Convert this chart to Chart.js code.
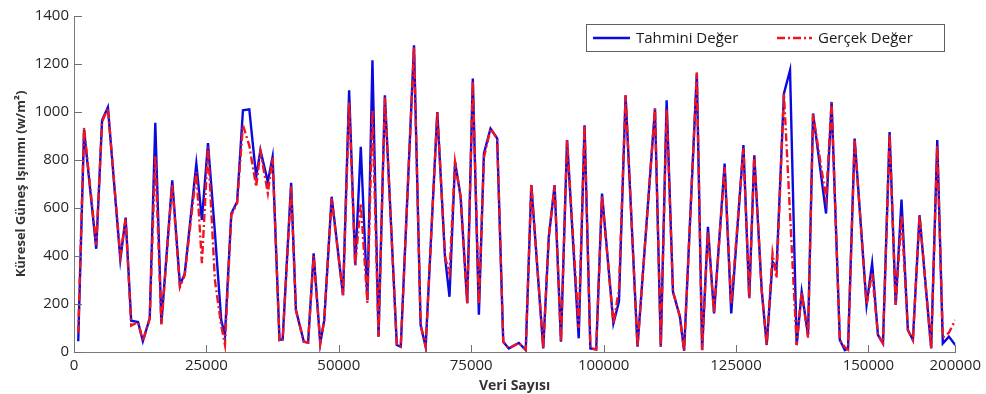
<!DOCTYPE html>
<html><head><meta charset="utf-8">
<script src="https://cdn.jsdelivr.net/npm/chart.js@4.4.0/dist/chart.umd.min.js"></script>
<style>html,body{margin:0;padding:0;background:#fff;}</style>
</head><body>
<canvas id="c" width="986" height="394"></canvas>
<script>
const veriSayisi = [800,1900,4200,5300,6400,8750,9750,10800,12100,13000,
 14300,15350,16500,18550,20000,20900,23100,24150,25300,26600,
 27800,28500,29700,30800,31900,33100,34400,35200,36600,37500,
 38800,39400,41000,41900,43400,44200,45250,46500,47250,48650,
 50800,51950,53100,54150,55400,56350,57500,58700,60950,61700,
 64200,65450,66400,68600,70050,70900,71950,73000,74250,75300,
 76450,77400,78650,79900,81050,82100,84000,85300,86350,88600,
 89650,90750,91950,93100,95300,96400,97500,98600,99700,101850,
 102900,104150,106400,109700,110800,111900,113100,114400,115200,117600,
 118600,119700,120850,122850,124100,126400,127500,128450,129850,130800,
 131900,132650,134050,135200,136450,137400,138600,139550,142000,143050,
 144600,145550,146150,147400,149650,150700,151800,152750,154000,155150,
 156250,157450,158400,159650,161850,163000,164050,165200,166400];
const tahmini = [45,925,430,965,1020,385,560,130,125,45,
 140,955,120,715,280,325,785,550,870,500,
 133,70,577,626,1007,1011,730,841,709,813,
 50,53,705,175,43,39,411,36,133,647,
 237,1090,362,855,216,1216,64,1070,29,22,
 1278,112,22,1000,397,230,792,647,203,1139,
 155,827,931,890,43,15,38,8,695,15,
 480,695,43,883,57,945,15,11,660,119,
 210,1070,22,1014,22,1049,251,148,5,1160,
 8,522,161,785,161,862,224,820,258,29,
 376,349,1077,1174,29,251,71,994,577,1042,
 50,8,15,889,196,369,71,36,917,196,
 635,92,50,570,15,883,36,64,29];
const gercek = [80,935,445,960,1015,400,555,110,125,45,
 140,820,115,700,270,320,750,370,855,300,
 110,30,570,620,945,860,688,835,662,810,
 45,50,690,175,43,39,400,36,133,640,
 237,1040,362,620,205,1010,64,1060,29,22,
 1270,112,22,1000,397,326,792,647,203,1130,
 200,810,931,890,43,15,38,10,700,15,
 480,695,43,883,100,945,15,11,650,119,
 260,1070,22,1014,22,1010,251,148,5,1165,
 8,500,161,770,200,850,224,820,258,29,
 411,308,1077,575,29,251,60,990,640,1040,
 50,20,10,885,196,330,71,36,910,196,
 570,92,50,570,15,860,60,80,133];
const xTickValues = [0,25000,50000,75000,100000,125000,150000,166400];
const xTickLabels = ['0','25000','50000','75000','100000','125000','150000','200000'];
const yMin = 0, yMax = 1400, yStep = 200;

const FONT = "'Open Sans', 'DejaVu Sans', sans-serif";

const innerTicks = {
  id: 'innerTicks',
  afterDatasetsDraw(chart) {
    const {ctx, chartArea: a, scales: {x, y}} = chart;
    ctx.save();
    ctx.strokeStyle = '#707070';
    ctx.lineWidth = 1;
    ctx.beginPath();
    x.ticks.forEach(t => {
      const px = Math.round(x.getPixelForValue(t.value)) + 0.5;
      ctx.moveTo(px, a.bottom); ctx.lineTo(px, a.bottom - 7);
    });
    y.ticks.forEach(t => {
      const py = Math.round(y.getPixelForValue(t.value)) + 0.5;
      ctx.moveTo(a.left, py); ctx.lineTo(a.left + 8, py);
    });
    ctx.stroke();
    ctx.restore();
  }
};

const boxLegend = {
  id: 'boxLegend',
  afterDraw(chart) {
    const ctx = chart.ctx;
    const ds = chart.data.datasets;
    const bx = 586.5, by = 24.5, bw = 358, bh = 27;
    ctx.save();
    ctx.fillStyle = '#fff';
    ctx.fillRect(bx, by, bw, bh);
    ctx.strokeStyle = '#606060';
    ctx.lineWidth = 1;
    ctx.strokeRect(bx, by, bw, bh);
    const cy = by + bh / 2;
    const entries = [{x0: 593, x1: 630, tx: 636}, {x0: 777, x1: 812, tx: 818}];
    ds.forEach((d, i) => {
      const e = entries[i];
      ctx.beginPath();
      ctx.strokeStyle = d.borderColor;
      ctx.lineWidth = d.borderWidth;
      ctx.setLineDash(d.borderDash || []);
      ctx.moveTo(e.x0, cy); ctx.lineTo(e.x1, cy);
      ctx.stroke();
      ctx.setLineDash([]);
      ctx.fillStyle = '#1a1a1a';
      ctx.font = "15px " + FONT;
      ctx.textBaseline = 'middle';
      ctx.textAlign = 'left';
      ctx.fillText(d.label, e.tx, cy + 1);
    });
    ctx.restore();
  }
};

new Chart(document.getElementById('c'), {
  type: 'line',
  data: {
    datasets: [
      {
        label: 'Tahmini Değer',
        data: veriSayisi.map((v, i) => ({x: v, y: tahmini[i]})),
        borderColor: '#0a0ae0',
        borderWidth: 2.4,
        pointRadius: 0,
        tension: 0,
        fill: false,
        order: 1
      },
      {
        label: 'Gerçek Değer',
        data: veriSayisi.map((v, i) => ({x: v, y: gercek[i]})),
        borderColor: '#f01420',
        borderWidth: 2.4,
        borderDash: [8, 3, 2, 3],
        pointRadius: 0,
        tension: 0,
        fill: false,
        order: 0
      }
    ]
  },
  options: {
    responsive: false,
    animation: false,
    devicePixelRatio: 1,
    layout: {padding: {top: 16, right: 28, left: 0, bottom: 0}},
    plugins: {legend: {display: false}, tooltip: {enabled: false}},
    scales: {
      x: {
        type: 'linear',
        min: 0,
        max: xTickValues[xTickValues.length - 1],
        afterBuildTicks: s => { s.ticks = xTickValues.map(v => ({value: v})); },
        afterFit: s => { s.height = 42; },
        grid: {display: false, drawTicks: false},
        border: {display: true, color: '#7a7a7a', width: 1},
        ticks: {
          autoSkip: false, maxRotation: 0, padding: 5,
          color: '#262626', font: {family: FONT, size: 15},
          callback: (v, i) => xTickLabels[i]
        },
        title: {
          display: true, text: 'Veri Sayısı', color: '#333',
          font: {family: FONT, size: 14, weight: 'bold'}, padding: {top: 0, bottom: 0}
        }
      },
      y: {
        min: yMin, max: yMax,
        afterFit: s => { s.width = 74; },
        grid: {display: false, drawTicks: false},
        border: {display: true, color: '#7a7a7a', width: 1},
        ticks: {stepSize: yStep, padding: 5, color: '#262626', font: {family: FONT, size: 15},
          callback: v => String(v)},
        title: {
          display: true, text: 'Küresel Güneş Işınımı (w/m²)', color: '#333',
          font: {family: FONT, size: 13, weight: 'bold'}, padding: {top: 13, bottom: 0}
        }
      }
    }
  },
  plugins: [innerTicks, boxLegend]
});
</script>
</body></html>
